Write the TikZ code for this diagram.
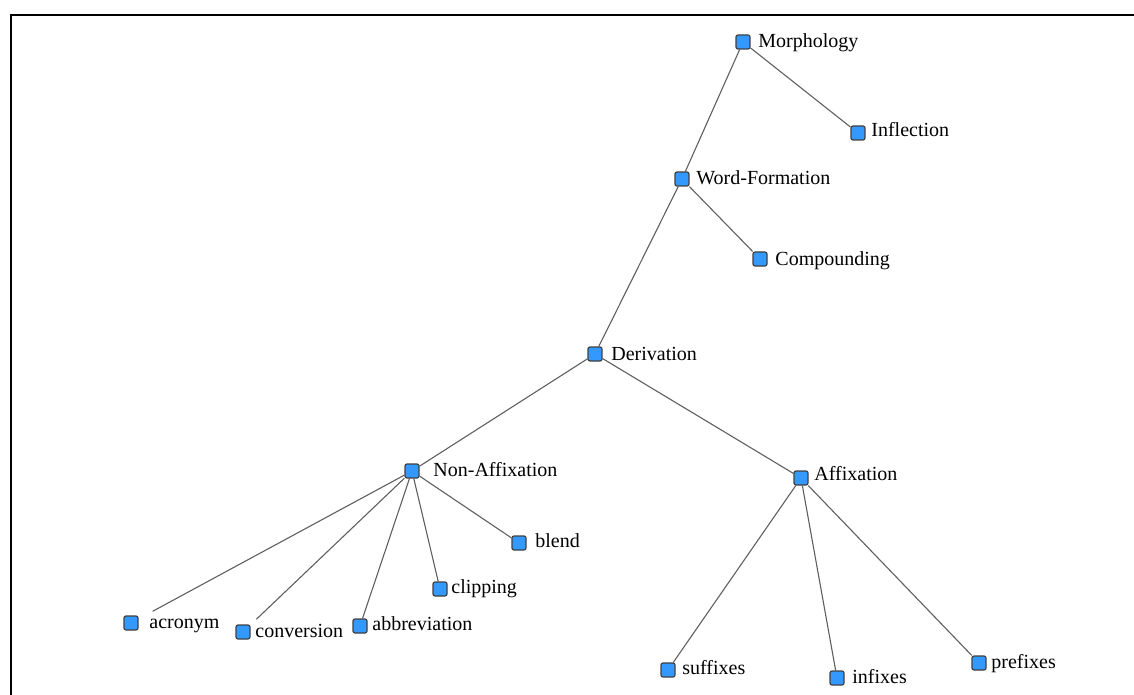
\documentclass[tikz,border=0pt]{standalone}
\usepackage{fontspec}
\setmainfont{Liberation Serif}
\usepackage{xcolor}
\usetikzlibrary{backgrounds}

\definecolor{nodeblue}{RGB}{51,153,255}
\definecolor{edgegray}{RGB}{95,95,95}

\begin{document}
\begin{tikzpicture}[x=0.5pt,y=-0.5pt,
        sq/.style={draw=black!75,fill=nodeblue,line width=0.6pt,rounded corners=1pt,minimum size=7pt,inner sep=0pt},
        lbl/.style={anchor=base west,inner sep=0pt,font=\fontsize{10}{12}\selectfont},
        edge/.style={draw=edgegray,line width=0.55pt}]
        \useasboundingbox (0,0) rectangle (1134,695);

        % Frame
        \draw[line width=1pt] (1134,15) -- (10.5,15) -- (10.5,695);

        % Squares
        \node[sq] (morph) at (743,42) {};
        \node[sq] (infl) at (858,133) {};
        \node[sq] (wordf) at (682,179) {};
        \node[sq] (comp) at (760,259) {};
        \node[sq] (deriv) at (595,354) {};
        \node[sq] (nonaff) at (412,471) {};
        \node[sq] (aff) at (801,478) {};
        \node[sq] (blend) at (519,543) {};
        \node[sq] (clip) at (440,589) {};
        \node[sq] (acro) at (131,623) {};
        \node[sq] (conv) at (243,632) {};
        \node[sq] (abbr) at (360,626) {};
        \node[sq] (suff) at (668,670) {};
        \node[sq] (infx) at (837,678) {};
        \node[sq] (pref) at (979,663) {};

        % Labels
        \node[lbl] (morph-t) at (758,48) {Morphology};
        \node[lbl] (infl-t) at (871,137) {Inflection};
        \node[lbl] (wordf-t) at (696,185) {Word-Formation};
        \node[lbl] (comp-t) at (775,265) {Compounding};
        \node[lbl] (deriv-t) at (611,360) {Derivation};
        \node[lbl] (nonaff-t) at (433,476) {Non-Affixation};
        \node[lbl] (aff-t) at (814,480) {Affixation};
        \node[lbl] (blend-t) at (535,547) {blend};
        \node[lbl] (clip-t) at (451,593) {clipping};
        \node[lbl] (acro-t) at (149,628) {acronym};
        \node[lbl] (conv-t) at (255,637) {conversion};
        \node[lbl] (abbr-t) at (372,630) {abbreviation};
        \node[lbl] (suff-t) at (682,674) {suffixes};
        \node[lbl] (infx-t) at (852,683) {infixes};
        \node[lbl] (pref-t) at (991,668) {prefixes};

        % Connectors (behind the squares)
        \begin{scope}[on background layer]
            \draw[edge] (morph) -- (infl);
            \draw[edge] (morph) -- (wordf);
            \draw[edge] (wordf) -- (comp);
            \draw[edge] (wordf) -- (deriv);
            \draw[edge] (deriv) -- (nonaff);
            \draw[edge] (deriv) -- (aff);
            \draw[edge,shorten >=8pt] (nonaff) -- (acro);
            \draw[edge,shorten >=4pt] (nonaff) -- (conv);
            \draw[edge] (nonaff) -- (abbr);
            \draw[edge] (nonaff) -- (clip);
            \draw[edge] (nonaff) -- (blend);
            \draw[edge] (aff) -- (suff);
            \draw[edge] (aff) -- (infx);
            \draw[edge] (aff) -- (pref);
        \end{scope}
    \end{tikzpicture}
\end{document}
